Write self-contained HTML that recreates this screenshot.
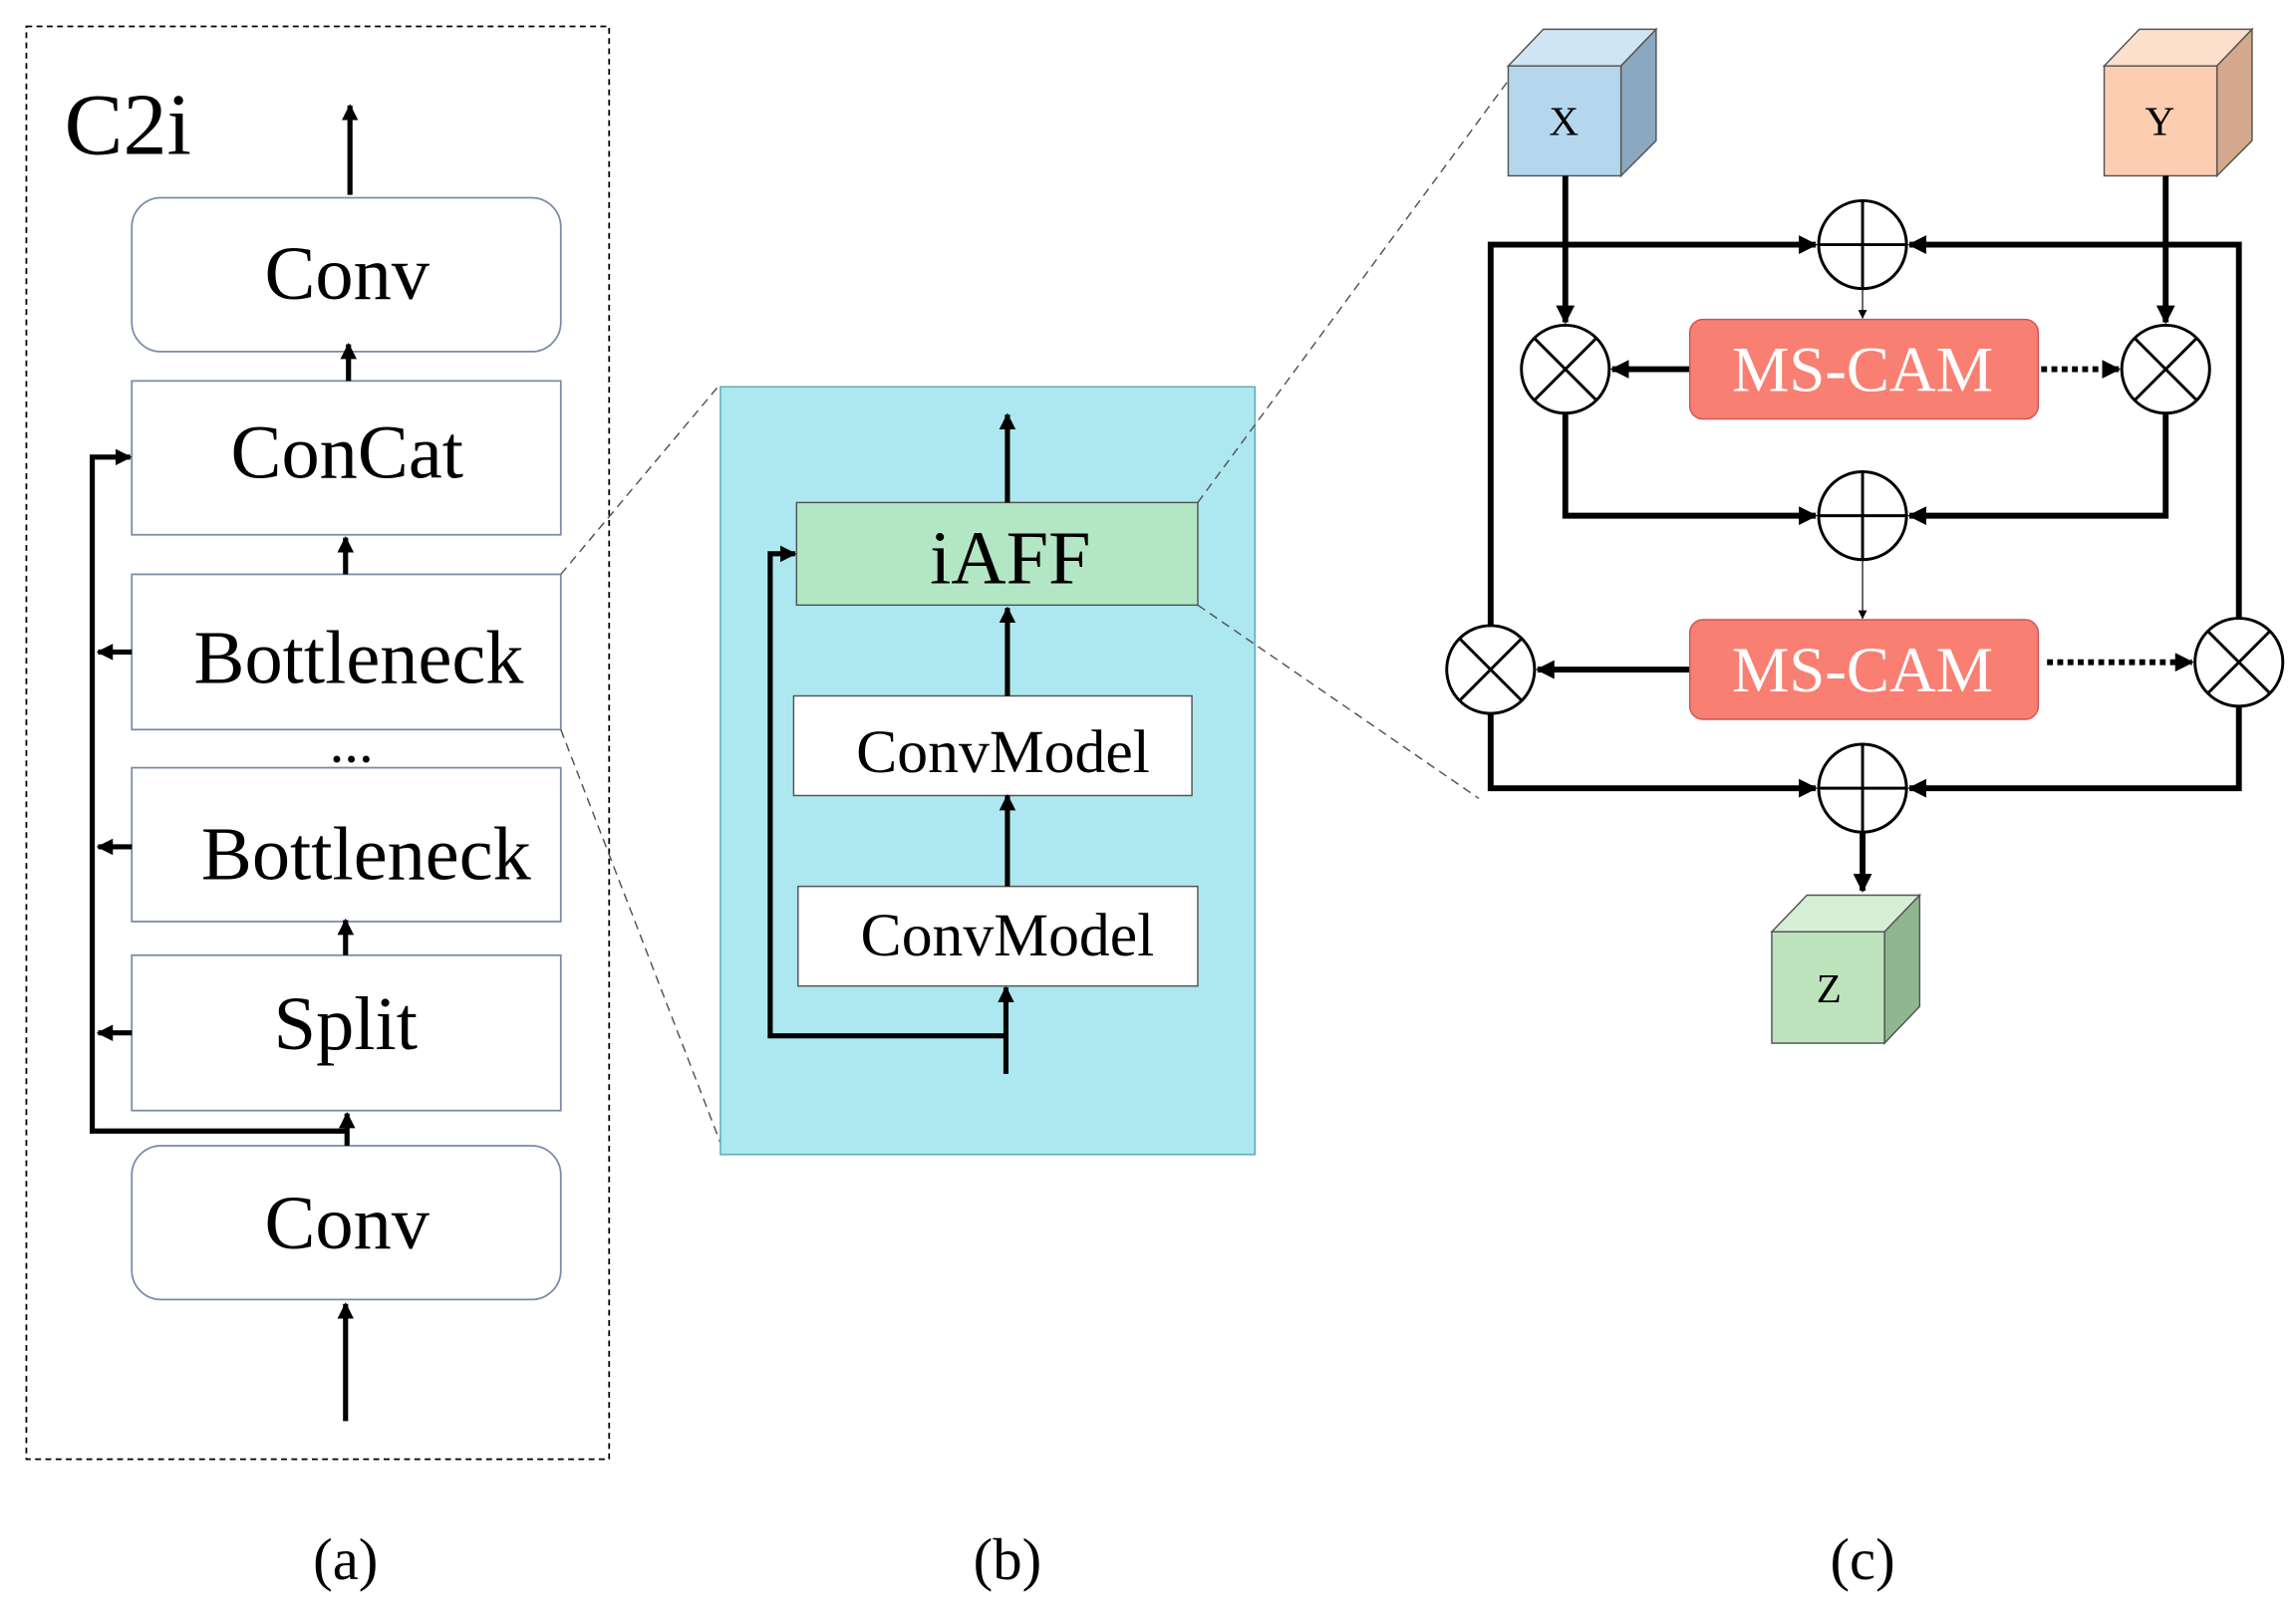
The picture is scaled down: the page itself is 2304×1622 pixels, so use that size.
<!DOCTYPE html>
<html><head><meta charset="utf-8"><style>
html,body{margin:0;padding:0;background:#fff;}
svg{display:block}
text{font-family:"Liberation Serif",serif;}
</style></head><body>
<svg width="2304" height="1622" viewBox="0 0 1568 1103" preserveAspectRatio="none" xmlns="http://www.w3.org/2000/svg">
<defs>
<marker id="ah" viewBox="0 0 10 10" refX="9" refY="5" markerWidth="3.2" markerHeight="3.2" orient="auto"><path d="M0,0 L10,5 L0,10 z" fill="#000"/></marker>
<marker id="ahs" viewBox="0 0 10 10" refX="9" refY="5" markerWidth="5" markerHeight="5" orient="auto"><path d="M0,0 L10,5 L0,10 z" fill="#000"/></marker>
</defs>
<rect width="1568" height="1103" fill="#fff"/>
<!-- panel a -->
<rect x="18" y="18" width="398" height="978" fill="none" stroke="#000" stroke-width="1.2" stroke-dasharray="4,3"/>
<text x="44" y="105" font-size="60">C2i</text>
<g fill="#fff" stroke="#7a8aa8" stroke-width="1.2">
<rect x="90" y="135" width="293" height="105" rx="20"/>
<rect x="90" y="260" width="293" height="105"/>
<rect x="90" y="392" width="293" height="106"/>
<rect x="90" y="524" width="293" height="105"/>
<rect x="90" y="652" width="293" height="106"/>
<rect x="90" y="782" width="293" height="105" rx="20"/>
</g>
<g font-size="52" text-anchor="middle">
<text x="237" y="204">Conv</text>
<text x="237" y="326">ConCat</text>
<text x="245" y="466">Bottleneck</text>
<text x="250" y="600">Bottleneck</text>
<text x="236" y="716">Split</text>
<text x="237" y="852">Conv</text>
<text x="240" y="520" font-size="40">...</text>
</g>
<g stroke="#000" stroke-width="3.5" fill="none" marker-end="url(#ah)">
<line x1="239" y1="133" x2="239" y2="72"/>
<line x1="238" y1="260" x2="238" y2="235"/>
<line x1="236" y1="392" x2="236" y2="367"/>
<line x1="236" y1="652" x2="236" y2="628"/>
<line x1="237" y1="782" x2="237" y2="760"/>
<line x1="236" y1="970" x2="236" y2="890"/>
<polyline points="237,772 63,772 63,312 89,312"/>
<line x1="90" y1="445" x2="67" y2="445"/>
<line x1="90" y1="578" x2="67" y2="578"/>
<line x1="90" y1="705" x2="67" y2="705"/>
</g>
<g stroke="#555" stroke-width="1" stroke-dasharray="6,4">
<line x1="383" y1="392" x2="492" y2="262"/>
<line x1="383" y1="498" x2="492" y2="780"/>
</g>
<!-- panel b -->
<rect x="492" y="264" width="365" height="524" fill="#ade8f0" stroke="#5aaabb" stroke-width="1"/>
<g stroke="#555" stroke-width="1" stroke-dasharray="6,4">
<line x1="818" y1="343" x2="1030" y2="55"/>
<line x1="818" y1="413" x2="1010" y2="545"/>
</g>
<rect x="544" y="343" width="274" height="70" fill="#b3e6c4" stroke="#555" stroke-width="1"/>
<text x="690" y="398" font-size="52" text-anchor="middle">iAFF</text>
<rect x="542" y="475" width="272" height="68" fill="#fff" stroke="#555" stroke-width="1"/>
<text x="685" y="527" font-size="42" text-anchor="middle">ConvModel</text>
<rect x="545" y="605" width="273" height="68" fill="#fff" stroke="#555" stroke-width="1"/>
<text x="688" y="652" font-size="42" text-anchor="middle">ConvModel</text>
<g stroke="#000" stroke-width="3.5" fill="none" marker-end="url(#ah)">
<line x1="688" y1="343" x2="688" y2="283"/>
<line x1="688" y1="475" x2="688" y2="415"/>
<line x1="688" y1="605" x2="688" y2="543"/>
<line x1="687" y1="733" x2="687" y2="674"/>
<polyline points="687,707 526,707 526,378 543,378"/>
</g>
<!-- panel c cubes -->
<g stroke="#555" stroke-width="1">
<polygon points="1030,45 1054,20 1131,20 1107,45" fill="#cfe5f4"/>
<polygon points="1107,45 1131,20 1131,96 1107,120" fill="#8aa8bf"/>
<rect x="1030" y="45" width="77" height="75" fill="#b5d7ee"/>
<polygon points="1437,45 1461,20 1538,20 1514,45" fill="#fde0cc"/>
<polygon points="1514,45 1538,20 1538,96 1514,120" fill="#d4a88c"/>
<rect x="1437" y="45" width="77" height="75" fill="#fccdb0"/>
<polygon points="1210,636 1234,611 1311,611 1287,636" fill="#d6eed6"/>
<polygon points="1287,636 1311,611 1311,687 1287,712" fill="#90b690"/>
<rect x="1210" y="636" width="77" height="76" fill="#bde3bd"/>
</g>
<g font-size="28" text-anchor="middle">
<text x="1068" y="92">X</text><text x="1475" y="92">Y</text><text x="1249" y="684">Z</text>
</g>
<g stroke="#000" stroke-width="4" fill="none" marker-end="url(#ah)">
<line x1="1069" y1="120" x2="1069" y2="220"/>
<line x1="1479" y1="120" x2="1479" y2="220"/>
<polyline points="1018,427 1018,167 1240,167"/>
<polyline points="1529,422 1529,167 1304,167"/>
<line x1="1154" y1="252" x2="1101" y2="252"/>
<polyline points="1069,282 1069,352 1240,352"/>
<polyline points="1479,282 1479,352 1304,352"/>
<line x1="1154" y1="457" x2="1050" y2="457"/>
<polyline points="1018,487 1018,538 1240,538"/>
<polyline points="1529,482 1529,538 1304,538"/>
<line x1="1272" y1="568" x2="1272" y2="608"/>
</g>
<g stroke="#000" stroke-width="4" fill="none" stroke-dasharray="4,3" marker-end="url(#ah)">
<line x1="1394" y1="252" x2="1447" y2="252"/>
<line x1="1398" y1="452" x2="1497" y2="452"/>
</g>
<g stroke="#555" stroke-width="1.2" marker-end="url(#ahs)">
<line x1="1272" y1="197" x2="1272" y2="217"/>
<line x1="1272" y1="382" x2="1272" y2="422"/>
</g>
<rect x="1154" y="218" width="238" height="68" rx="9" fill="#f87f72" stroke="#c55" stroke-width="1"/>
<rect x="1154" y="423" width="238" height="68" rx="9" fill="#f87f72" stroke="#c55" stroke-width="1"/>
<g font-size="44" text-anchor="middle" fill="#fff">
<text x="1272" y="267">MS-CAM</text><text x="1272" y="472">MS-CAM</text>
</g>
<g fill="#fff" stroke="#000" stroke-width="2">
<circle cx="1272" cy="167" r="30"/><circle cx="1272" cy="352" r="30"/><circle cx="1272" cy="538" r="30"/>
<circle cx="1069" cy="252" r="30"/><circle cx="1479" cy="252" r="30"/><circle cx="1018" cy="457" r="30"/><circle cx="1529" cy="452" r="30"/>
</g>
<g stroke="#000" stroke-width="2">
<path d="M1242,167H1302M1272,137V197M1242,352H1302M1272,322V382M1242,538H1302M1272,508V568"/>
<path d="M1048,231L1090,273M1090,231L1048,273M1458,231L1500,273M1500,231L1458,273M997,436L1039,478M1039,436L997,478M1508,431L1550,473M1550,431L1508,473"/>
</g>
<g font-size="40" text-anchor="middle">
<text x="236" y="1078">(a)</text><text x="688" y="1078">(b)</text><text x="1272" y="1078">(c)</text>
</g>
</svg>
</body></html>
